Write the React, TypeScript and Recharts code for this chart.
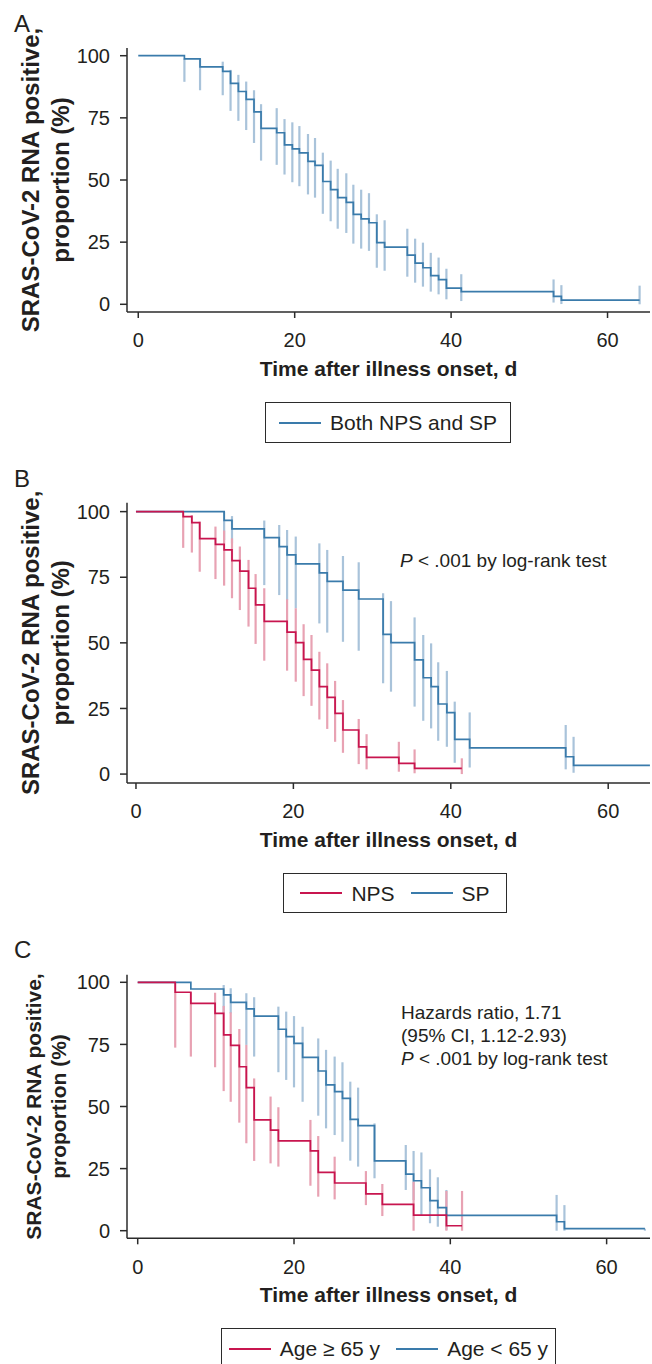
import React from 'react';
import { ComposedChart, Line, Scatter, ErrorBar, XAxis, YAxis, Legend } from 'recharts';

const FONT = '"Liberation Sans", Arial, Helvetica, sans-serif';
const BLUE = '#3a7bab';
const BLUE_CI = '#a9c3da';
const RED = '#c8154f';
const RED_CI = '#e8a2b3';
const AXIS = '#2b2b2b';
const TEXT = '#231f20';

const xTicks = [0, 20, 40, 60];
const yTicks = [0, 25, 50, 75, 100];

// Panel A: Both NPS and SP
const bothDays = [0, 5.9, 7.9, 10.8, 11.8, 12.8, 13.8, 14.8, 15.7, 17.7, 18.7, 19.7, 20.6, 21.7, 22.6, 23.6, 24.6, 25.5, 26.6, 27.5, 28.5, 29.5, 30.5, 31.5, 34.4, 35.4, 36.4, 37.4, 38.4, 39.4, 41.3, 53.1, 54.1, 64.1];
const bothSurv = [100, 98.7, 95.5, 93.7, 88.9, 85.6, 82.4, 77.4, 70.8, 69.0, 64.1, 62.5, 60.9, 57.5, 55.9, 49.4, 46.1, 42.9, 41.0, 36.2, 34.4, 32.8, 24.8, 23.0, 19.8, 16.6, 14.7, 11.5, 9.9, 6.5, 5.1, 3.2, 1.7, 1.7];
const bothCiHigh = [null, 98.9, 98.9, 97.6, 94.3, 92.3, 89.6, 86.1, 80.5, 78.9, 74.5, 73.2, 71.7, 68.5, 66.9, 61.0, 57.8, 54.5, 52.7, 48.1, 46.1, 44.7, 36.2, 33.8, 30.4, 26.4, 24.8, 20.7, 18.8, 14.3, 12.1, 10.0, 7.7, 7.5];
const bothCiLow = [null, 89.5, 86.1, 84.1, 77.8, 73.8, 70.1, 64.9, 57.8, 56.1, 52.2, 49.1, 47.5, 44.2, 42.9, 36.4, 33.4, 30.4, 28.7, 24.4, 22.4, 21.5, 14.7, 13.5, 11.1, 8.7, 7.1, 5.1, 4.0, 2.0, 1.3, 0.7, 0.1, 0];

// Panel B: NPS
const npsDays = [0, 6.0, 7.1, 8.1, 10.1, 11.2, 12.2, 13.2, 14.3, 15.2, 16.3, 19.2, 20.3, 21.3, 22.3, 23.3, 24.3, 25.3, 26.3, 28.3, 29.3, 33.4, 35.4, 41.4];
const npsSurv = [100, 98.1, 95.8, 89.7, 87.5, 85.4, 81.3, 77.3, 70.8, 64.5, 58.2, 54.1, 50.1, 43.7, 39.6, 33.3, 29.2, 23.1, 16.8, 10.4, 6.4, 4.1, 2.2, 2.2];
const npsCiHigh = [null, 100, 98.7, 96.2, 94.3, 92.8, 89.8, 86.7, 81.6, 76.2, 70.8, 66.6, 63.2, 57.1, 53.0, 46.6, 42.2, 35.5, 28.2, 21.0, 15.2, 12.3, 9.4, 6.0];
const npsCiLow = [null, 86.2, 84.4, 77.1, 74.3, 71.8, 67.0, 62.5, 56.2, 49.6, 43.2, 39.4, 35.2, 29.7, 26.0, 20.8, 17.2, 12.3, 8.1, 3.8, 1.8, 0.9, 0.3, 0];

// Panel B: SP
const spDays = [0, 11.2, 12.2, 16.3, 18.2, 19.2, 20.3, 23.3, 24.3, 26.3, 28.3, 31.4, 32.4, 35.4, 36.5, 37.5, 38.4, 39.5, 40.5, 42.4, 54.6, 55.6, 65.3];
const spSurv = [100, 96.7, 93.4, 90.1, 86.7, 83.5, 80.1, 76.7, 73.4, 70.1, 66.7, 53.2, 50.1, 43.5, 36.7, 33.3, 26.7, 23.4, 13.2, 10.0, 6.6, 3.3, 3.3];
const spCiHigh = [null, 100, 98.3, 96.6, 94.9, 93.0, 90.5, 87.9, 85.4, 83.1, 80.7, 68.9, 65.9, 59.7, 53.0, 49.8, 42.6, 39.3, 27.6, 23.5, 18.7, 14.2, null];
const spCiLow = [null, 89.2, 87.9, 72.0, 68.2, 66.3, 63.2, 57.4, 53.9, 50.4, 47.0, 34.6, 31.4, 25.7, 20.3, 17.4, 12.7, 10.4, 4.3, 2.5, 1.8, 0.5, null];

// Panel C: Age >= 65 y
const oldDays = [0, 4.8, 6.8, 9.9, 11.0, 11.9, 13.0, 13.9, 14.9, 17.0, 18.0, 22.1, 23.1, 25.2, 29.2, 31.3, 35.3, 39.5, 41.5];
const oldSurv = [100, 96.0, 91.5, 87.5, 78.8, 74.6, 66.0, 57.6, 44.6, 40.5, 36.2, 32.1, 23.5, 19.2, 14.8, 10.6, 6.3, 2.0, 2.0];
const oldCiHigh = [null, 100, 96.0, 95.8, 90.5, 87.9, 81.2, 74.8, 61.3, 54.0, 49.7, 44.6, 38.1, 29.8, 24.0, 18.8, 19.7, 16.0, 16.0];
const oldCiLow = [null, 73.7, 70.1, 65.8, 56.2, 51.9, 43.5, 35.2, 28.1, 27.1, 25.8, 18.1, 13.7, 12.6, 10.3, 5.9, 0, 0, 0];

// Panel C: Age < 65 y
const youngDays = [0, 6.8, 11.0, 11.9, 13.9, 14.9, 18.0, 19.0, 20.0, 21.1, 23.1, 24.1, 25.2, 26.2, 27.2, 28.2, 30.3, 34.3, 35.3, 36.3, 37.4, 38.4, 39.5, 53.6, 54.6, 64.9];
const youngSurv = [100, 97.3, 94.9, 91.9, 89.3, 86.4, 81.1, 78.1, 75.4, 69.8, 64.3, 58.7, 56.0, 53.3, 44.8, 42.3, 28.1, 22.8, 20.1, 17.3, 12.1, 9.3, 6.2, 3.6, 0.8, 0.8];
const youngCiHigh = [null, null, 98.9, 97.6, 95.6, 94.0, 90.2, 88.2, 86.4, 82.1, 77.4, 72.8, 70.1, 67.8, 60.0, 57.6, 43.2, 34.5, 32.1, 31.5, 24.7, 21.5, 16.4, 14.4, 10.3, 0.8];
const youngCiLow = [null, null, 87.5, 87.5, 74.8, 70.1, 63.8, 60.7, 57.7, 51.9, 46.3, 41.2, 38.5, 35.8, 28.2, 25.8, 21.1, 16.4, 12.3, 6.3, 3.0, 1.6, 0.3, 0, 0, 0];

type Series = {
  name: string;
  days: number[];
  surv: number[];
  ciHigh: (number | null)[];
  ciLow: (number | null)[];
  color: string;
  ci: string;
};

const toCurve = (s: Series) => s.days.map((t, i) => ({ t, s: s.surv[i] }));
const toBars = (s: Series) =>
  s.days
    .map((t, i) => ({ t, s: s.surv[i], lo: s.ciLow[i], hi: s.ciHigh[i] }))
    .filter((d) => d.lo != null && d.hi != null)
    .map((d) => ({ t: d.t, s: d.s, err: [d.s - (d.lo as number), (d.hi as number) - d.s] }));

const EmptyShape = () => <g />;

type Box = { x: number; y: number; w: number; h: number };

const LegendBox = ({ items, box }: { items: Series[]; box: Box }) => (
  <div
    style={{
      boxSizing: 'border-box',
      width: box.w,
      height: box.h,
      border: `1.5px solid ${AXIS}`,
      background: '#fff',
      display: 'flex',
      alignItems: 'center',
      justifyContent: 'center',
      fontFamily: FONT,
      fontSize: 21,
      color: TEXT,
      whiteSpace: 'nowrap',
    }}
  >
    {items.map((it, i) => (
      <div key={i} style={{ display: 'flex', alignItems: 'center', marginLeft: i ? 16 : 0 }}>
        <svg width={42} height={4} style={{ display: 'block' }}>
          <line x1={0} y1={2} x2={42} y2={2} stroke={it.color} strokeWidth={2} />
        </svg>
        <span style={{ marginLeft: 9, lineHeight: 1 }}>{it.name}</span>
      </div>
    ))}
  </div>
);

type PanelProps = {
  top: number;
  height: number;
  marginTop: number;
  plotHeight: number;
  xDomain: [number, number];
  yDomain: [number, number];
  series: Series[];
  legend: Box;
  yTitleSize: number;
  yTitleX: [number, number];
  xTitleY: number;
};

function Panel(p: PanelProps) {
  const marginBottom = p.height - p.marginTop - p.plotHeight - 40;
  const cy = p.marginTop + p.plotHeight / 2;
  const cx = (127 + 650) / 2;
  const titleStyle = { fontFamily: FONT, fontWeight: 700, fill: TEXT } as const;
  return (
    <div style={{ position: 'absolute', left: 0, top: p.top, width: 652, height: p.height }}>
      <ComposedChart
        width={652}
        height={p.height}
        margin={{ top: p.marginTop, right: 2, bottom: marginBottom, left: 0 }}
      >
        <XAxis
          type="number"
          dataKey="t"
          domain={p.xDomain}
          ticks={xTicks}
          interval={0}
          allowDataOverflow
          height={40}
          tickSize={6}
          tickMargin={15}
          axisLine={{ stroke: AXIS, strokeWidth: 1.5 }}
          tickLine={{ stroke: AXIS, strokeWidth: 1.5 }}
          tick={{ fill: TEXT, fontSize: 20, fontFamily: FONT }}
          label={{
            content: () => (
              <text x={cx} y={p.xTitleY} textAnchor="middle" fontSize={21} {...titleStyle}>
                Time after illness onset, d
              </text>
            ),
          }}
        />
        <YAxis
          type="number"
          dataKey="s"
          domain={p.yDomain}
          ticks={yTicks}
          interval={0}
          allowDataOverflow
          width={127}
          tickSize={7}
          tickMargin={10}
          axisLine={{ stroke: AXIS, strokeWidth: 1.5 }}
          tickLine={{ stroke: AXIS, strokeWidth: 1.5 }}
          tick={{ fill: TEXT, fontSize: 20, fontFamily: FONT }}
          label={{
            content: () => (
              <g>
                <text
                  x={p.yTitleX[0]}
                  y={cy}
                  transform={`rotate(-90 ${p.yTitleX[0]} ${cy})`}
                  textAnchor="middle"
                  fontSize={p.yTitleSize}
                  {...titleStyle}
                >
                  SRAS-CoV-2 RNA positive,
                </text>
                <text
                  x={p.yTitleX[1]}
                  y={cy}
                  transform={`rotate(-90 ${p.yTitleX[1]} ${cy})`}
                  textAnchor="middle"
                  fontSize={p.yTitleSize}
                  {...titleStyle}
                >
                  proportion (%)
                </text>
              </g>
            ),
          }}
        />
        {[...p.series].reverse().map((s) => (
          <Scatter
            key={`ci-${s.name}`}
            name={`ci-${s.name}`}
            data={toBars(s)}
            shape={EmptyShape}
            legendType="none"
            isAnimationActive={false}
          >
            <ErrorBar dataKey="err" direction="y" width={0} stroke={s.ci} strokeWidth={2.2} isAnimationActive={false} />
          </Scatter>
        ))}
        {[...p.series].reverse().map((s) => (
          <Line
            key={`line-${s.name}`}
            name={s.name}
            data={toCurve(s)}
            dataKey="s"
            type="stepAfter"
            stroke={s.color}
            strokeWidth={1.7}
            dot={false}
            activeDot={false}
            isAnimationActive={false}
          />
        ))}
        <Legend
          layout="horizontal"
          verticalAlign="middle"
          align="center"
          wrapperStyle={{ left: p.legend.x, top: p.legend.y - p.top, width: p.legend.w, height: p.legend.h }}
          content={() => <LegendBox items={p.series} box={p.legend} />}
        />
      </ComposedChart>
    </div>
  );
}

const seriesBoth: Series = { name: 'Both NPS and SP', days: bothDays, surv: bothSurv, ciHigh: bothCiHigh, ciLow: bothCiLow, color: BLUE, ci: BLUE_CI };
const seriesNps: Series = { name: 'NPS', days: npsDays, surv: npsSurv, ciHigh: npsCiHigh, ciLow: npsCiLow, color: RED, ci: RED_CI };
const seriesSp: Series = { name: 'SP', days: spDays, surv: spSurv, ciHigh: spCiHigh, ciLow: spCiLow, color: BLUE, ci: BLUE_CI };
const seriesOld: Series = { name: 'Age \u2265 65 y', days: oldDays, surv: oldSurv, ciHigh: oldCiHigh, ciLow: oldCiLow, color: RED, ci: RED_CI };
const seriesYoung: Series = { name: 'Age < 65 y', days: youngDays, surv: youngSurv, ciHigh: youngCiHigh, ciLow: youngCiLow, color: BLUE, ci: BLUE_CI };

export default function App() {
  const letter = { fontFamily: FONT, fontSize: 24, fill: TEXT } as const;
  const note = { fontFamily: FONT, fontSize: 19, fill: TEXT } as const;
  return (
    <div style={{ position: 'absolute', left: 0, top: 0, width: 652, height: 1364, background: '#fff', overflow: 'hidden' }}>
      <Panel
        top={0}
        height={460}
        marginTop={48}
        plotHeight={264}
        xDomain={[-1.44, 65.43]}
        yDomain={[-3.1, 103.1]}
        series={[seriesBoth]}
        legend={{ x: 265, y: 402, w: 246, h: 41 }}
        yTitleSize={24}
        yTitleX={[39, 69]}
        xTitleY={376}
      />
      <Panel
        top={460}
        height={460}
        marginTop={42.7}
        plotHeight={280.3}
        xDomain={[-1.14, 65.31]}
        yDomain={[-3.4, 103.4]}
        series={[seriesNps, seriesSp]}
        legend={{ x: 283, y: 873, w: 224, h: 40 }}
        yTitleSize={24}
        yTitleX={[39, 69]}
        xTitleY={387}
      />
      <Panel
        top={920}
        height={444}
        marginTop={54.7}
        plotHeight={263.6}
        xDomain={[-1.37, 65.55]}
        yDomain={[-3.06, 103.06]}
        series={[seriesOld, seriesYoung]}
        legend={{ x: 221, y: 1328, w: 335, h: 41 }}
        yTitleSize={21}
        yTitleX={[41, 66]}
        xTitleY={382}
      />
      <svg width={652} height={1364} style={{ position: 'absolute', left: 0, top: 0, pointerEvents: 'none' }}>
        <text x={14} y={32} {...letter}>A</text>
        <text x={14} y={487} {...letter}>B</text>
        <text x={14} y={958} {...letter}>C</text>
        <text x={400} y={567} {...note}>
          <tspan fontStyle="italic">P</tspan>
          <tspan> &lt; .001 by log-rank test</tspan>
        </text>
        <text x={401} y={1019} {...note}>Hazards ratio, 1.71</text>
        <text x={401} y={1042} {...note}>(95% CI, 1.12-2.93)</text>
        <text x={401} y={1065} {...note}>
          <tspan fontStyle="italic">P</tspan>
          <tspan> &lt; .001 by log-rank test</tspan>
        </text>
      </svg>
    </div>
  );
}
